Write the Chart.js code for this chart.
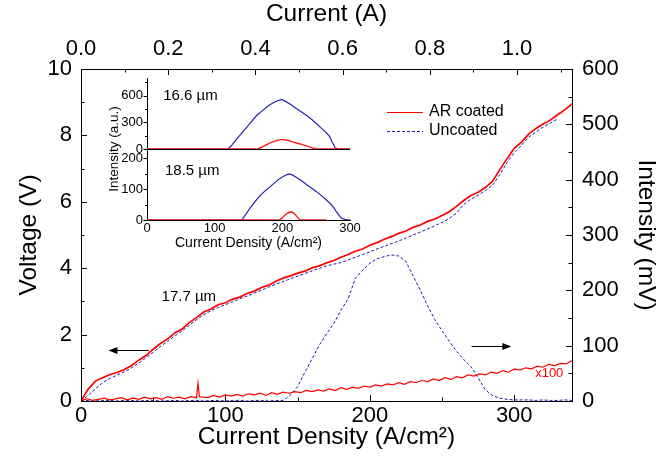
<!DOCTYPE html>
<html>
<head>
<meta charset="utf-8">
<script src="https://cdn.jsdelivr.net/npm/chart.js@4.4.1/dist/chart.umd.min.js"></script>
<style>
  html, body { margin: 0; padding: 0; background: #fff; }
  #wrap { position: relative; width: 665px; height: 470px; }
  #wrap canvas { position: absolute; }
  #main { left: 0; top: 0; }
  #insetTop, #insetBot, #insetAxis { left: 95px; top: 70px; }
</style>
</head>
<body>
<div id="wrap">
  <canvas id="main" width="665" height="470"></canvas>
  <canvas id="insetAxis" width="270" height="190"></canvas>
  <canvas id="insetTop" width="270" height="190"></canvas>
  <canvas id="insetBot" width="270" height="190"></canvas>
</div>
<script>
// ---- tick values
const cdTicks = [0, 100, 200, 300];
const currentTicks = [0, 0.2, 0.4, 0.6, 0.8, 1.0];
const voltTicks = [0, 2, 4, 6, 8, 10];
const mVTicks = [0, 100, 200, 300, 400, 500, 600];
const insetCdTicks = [0, 100, 200, 300];
const insetTopTicks = [0, 300, 600];
const insetBotTicks = [0, 100, 200];

// ---- main plot: current density grid (A/cm2) for voltage + uncoated intensity
const cdGrid = [0,5,10,15,20,25,30,35,40,45,50,55,60,65,70,75,80,85,90,95,
  100,105,110,115,120,125,130,135,140,145,150,155,160,165,170,175,180,185,190,195,
  200,205,210,215,220,225,230,235,240,245,250,255,260,265,270,275,280,285,290,295,
  300,305,310,315,320,325,330,335,340];

// voltage (V), AR coated
const voltAR = [0,0.36,0.60,0.70,0.80,0.86,0.95,1.07,1.23,1.37,1.56,1.73,1.87,2.05,2.17,2.36,2.51,2.68,2.77,2.90,
  2.96,3.07,3.13,3.24,3.31,3.42,3.49,3.61,3.70,3.77,3.85,3.91,4.01,4.07,4.16,4.23,4.33,4.41,4.51,4.58,
  4.69,4.77,4.87,4.95,5.05,5.12,5.23,5.30,5.41,5.48,5.59,5.70,5.86,6.04,6.19,6.29,6.43,6.62,6.97,7.30,
  7.61,7.80,8.04,8.21,8.34,8.46,8.62,8.77,8.95];

// voltage (V), uncoated
const voltUn = [0,0.17,0.37,0.55,0.68,0.78,0.88,1.00,1.14,1.30,1.47,1.64,1.80,1.96,2.11,2.28,2.45,2.60,2.72,2.82,
  2.90,2.99,3.08,3.16,3.25,3.34,3.43,3.52,3.60,3.68,3.76,3.84,3.92,3.99,4.07,4.12,4.17,4.25,4.33,4.41,
  4.49,4.58,4.66,4.74,4.82,4.91,5.00,5.09,5.18,5.28,5.38,5.50,5.66,5.92,6.08,6.20,6.34,6.50,6.82,7.18,
  7.48,7.70,7.95,8.10,8.25,8.37,8.50,null,null];

// intensity (mV), uncoated
const intUn = [1,1,0,1,1,0,1,1,0,1,1,0,1,1,0,1,1,0,1,1,
  0,1,1,0,1,1,0,1,1,11,26,52,76,101,121,140,164,185,222,236,
  249,257,261,264,262,252,226,200,172,147,127,108,90,75,62,42,20,10,5,3,
  2,2,2,1,2,1,1,2,1];

// intensity (mV), AR coated, shown x100
const cdIntAR = [0,4,8,12,16,20,24,28,32,36,
  40,44,48,52,56,60,64,68,72,76,
  80,81,82,84,88,92,96,100,104,108,
  112,116,120,124,128,132,136,140,144,148,
  152,156,160,164,168,172,176,180,184,188,
  192,196,200,204,208,212,216,220,224,228,
  232,236,240,244,248,252,256,260,264,268,
  272,276,280,284,288,292,296,300,304,308,
  312,316,320,324,328,332,336,340];
const intAR = [0,4,1,3,5,2,4,6,2,5,
  3,7,4,6,3,8,5,7,4,8,
  6,32,8,7,6,10,7,11,9,12,
  9,13,11,14,10,15,12,16,14,17,
  15,19,17,20,18,22,19,24,21,25,
  23,27,25,29,27,31,29,33,30,35,
  33,37,35,40,37,42,39,44,42,47,
  45,49,47,52,50,55,52,58,56,60,
  58,63,61,66,64,68,67,73];

// ---- inset: intensity (a.u.) vs current density
const cdTopBlue = [0,120,126,132,140,147,155,162,170,177,184,191,199,206,214,221,229,236,244,251,258,265,270,273,276,278,282,290,300];
const blue166 = [0,0,50,108,180,242,315,377,430,473,510,538,558,531,494,454,415,377,330,281,232,185,140,88,45,12,2,0,0];
const cdTopRed = [0,164,172,182,190,199,208,216,224,231,239,246,251,300];
const red166 = [0,0,30,69,92,108,98,77,62,46,27,8,0,0];
const cdBotBlue = [0,140,146,152,160,167,175,182,189,196,202,209,215,221,229,236,244,251,260,270,276,280,285,288,294,300];
const blue185 = [0,0,18,38,60,79,95,108,121,134,142,149,146,138,126,114,102,91,75,55,40,26,12,5,1,0];
const cdBotRed = [0,196,201,206,210,214,218,222,226,265];
const red185 = [0,0,10,20,25,26,20,10,0,0];

const RED = '#ff0000';
const BLUE = '#1c1caa';
const INRED = '#ff1a1a';
const INBLUE = '#2424b0';
const FONT = "'Liberation Sans', Arial, sans-serif";
Chart.defaults.font.family = FONT;
Chart.defaults.color = '#000';

const pairs = (xs, ys) => xs.map((x, i) => ({ x: x, y: ys[i] }));
const useTicks = values => s => { s.ticks = values.map(v => ({ value: v })); };

// tick marks (major + minor) drawn on the axis lines
const tickMarks = {
  id: 'tickMarks',
  afterDatasetsDraw(chart, args, o) {
    const ctx = chart.ctx;
    ctx.save();
    ctx.strokeStyle = '#000';
    ctx.lineWidth = 1;
    ctx.beginPath();
    for (const ax of o.axes) {
      const s = chart.scales[ax.id];
      const per = Math.round(ax.major / ax.minor);
      const last = Math.floor(s.max / ax.minor + 1e-6);
      for (let i = 0; i <= last; i++) {
        let len = i % per === 0 ? o.major : o.minor;
        if (ax.out) len = -len;
        const p = Math.round(s.getPixelForValue(i * ax.minor)) + 0.5;
        if (s.position === 'bottom') { ctx.moveTo(p, s.top); ctx.lineTo(p, s.top - len); }
        else if (s.position === 'top') { ctx.moveTo(p, s.bottom); ctx.lineTo(p, s.bottom + len); }
        else if (s.position === 'left') { ctx.moveTo(s.right, p); ctx.lineTo(s.right + len, p); }
        else { ctx.moveTo(s.left, p); ctx.lineTo(s.left - len, p); }
      }
    }
    ctx.stroke();
    ctx.restore();
  }
};

// value labels beside an inset y axis, placed through that scale
const sideLabels = {
  id: 'sideLabels',
  afterDraw(chart, args, o) {
    if (!o.values) return;
    const s = chart.scales.y;
    const ctx = chart.ctx;
    ctx.save();
    ctx.font = o.size + 'px ' + FONT;
    ctx.fillStyle = '#000';
    ctx.textAlign = 'right';
    ctx.textBaseline = 'middle';
    o.values.forEach(v => ctx.fillText(String(v), s.right - o.pad, s.getPixelForValue(v)));
    ctx.restore();
  }
};

// legend in the upper right of the plot
const legendBox = {
  id: 'legendBox',
  afterDraw(chart, args, o) {
    const ctx = chart.ctx;
    ctx.save();
    ctx.font = o.size + 'px ' + FONT;
    ctx.textBaseline = 'middle';
    o.show.forEach((k, n) => {
      const ds = chart.data.datasets[k];
      const y = o.y + n * o.gap;
      ctx.strokeStyle = ds.borderColor;
      ctx.lineWidth = 1;
      ctx.setLineDash(ds.borderDash || []);
      ctx.beginPath();
      ctx.moveTo(o.x, y + 0.5);
      ctx.lineTo(o.x + o.len, y + 0.5);
      ctx.stroke();
      ctx.setLineDash([]);
      ctx.fillStyle = '#000';
      ctx.fillText(ds.label, o.x + o.len + 6, y);
    });
    ctx.restore();
  }
};

// arrows and text notes placed in data coordinates
const notes = {
  id: 'notes',
  afterDraw(chart, args, o) {
    const ctx = chart.ctx;
    ctx.save();
    (o.arrows || []).forEach(a => {
      const sx = chart.scales[a.x], sy = chart.scales[a.y];
      const x1 = sx.getPixelForValue(a.from[0]), y1 = Math.round(sy.getPixelForValue(a.from[1])) + 0.5;
      const x2 = sx.getPixelForValue(a.to[0]);
      const d = x2 > x1 ? 1 : -1;
      ctx.strokeStyle = '#000';
      ctx.fillStyle = '#000';
      ctx.lineWidth = 1;
      ctx.beginPath();
      ctx.moveTo(x1, y1);
      ctx.lineTo(x2 - d * 6, y1);
      ctx.stroke();
      ctx.beginPath();
      ctx.moveTo(x2, y1);
      ctx.lineTo(x2 - d * 9, y1 - 3.5);
      ctx.lineTo(x2 - d * 9, y1 + 3.5);
      ctx.closePath();
      ctx.fill();
    });
    (o.texts || []).forEach(t => {
      const sx = chart.scales[t.x], sy = chart.scales[t.y];
      ctx.font = t.size + 'px ' + FONT;
      ctx.fillStyle = t.color || '#000';
      ctx.textAlign = t.align || 'left';
      ctx.textBaseline = 'middle';
      ctx.fillText(t.text, sx.getPixelForValue(t.at[0]), sy.getPixelForValue(t.at[1]));
    });
    if (o.sideTitle) {
      ctx.font = o.sideTitle.size + 'px ' + FONT;
      ctx.fillStyle = '#000';
      ctx.textAlign = 'center';
      ctx.textBaseline = 'middle';
      ctx.translate(o.sideTitle.x, o.sideTitle.y);
      ctx.rotate(-Math.PI / 2);
      ctx.fillText(o.sideTitle.text, 0, 0);
    }
    ctx.restore();
  }
};

// zero line of the upper inset panel (its x axis is hidden)
const panelLine = {
  id: 'panelLine',
  beforeDatasetsDraw(chart, args, o) {
    if (!o.on) return;
    const a = chart.chartArea;
    const ctx = chart.ctx;
    ctx.save();
    ctx.strokeStyle = '#000';
    ctx.lineWidth = 1;
    ctx.beginPath();
    ctx.moveTo(a.left, Math.round(a.bottom) + 0.5);
    ctx.lineTo(a.right, Math.round(a.bottom) + 0.5);
    ctx.stroke();
    ctx.restore();
  }
};

const noGrid = () => ({ display: false, drawTicks: false });
const border = () => ({ display: true, color: '#000', width: 1 });
const common = {
  responsive: false,
  animation: false,
  devicePixelRatio: 1,
  elements: { point: { radius: 0 }, line: { tension: 0, fill: false } }
};

new Chart(document.getElementById('main'), {
  type: 'line',
  data: {
    datasets: [
      { label: 'AR coated', data: pairs(cdGrid, voltAR), yAxisID: 'y', borderColor: RED, borderWidth: 1.7 },
      { label: 'AR coated x100', data: pairs(cdIntAR, intAR), yAxisID: 'y2', borderColor: RED, borderWidth: 1.2 },
      { label: 'Uncoated', data: pairs(cdGrid, voltUn), yAxisID: 'y', borderColor: BLUE, borderWidth: 1, borderDash: [3, 2] },
      { label: 'Uncoated', data: pairs(cdGrid, intUn), yAxisID: 'y2', borderColor: BLUE, borderWidth: 1, borderDash: [3, 2] }
    ]
  },
  options: Object.assign({}, common, {
    layout: { padding: 0 },
    plugins: {
      legend: { display: false },
      tooltip: { enabled: false },
      tickMarks: {
        major: 6, minor: 3.5,
        axes: [
          { id: 'x', major: 100, minor: 50 },
          { id: 'x2', major: 0.2, minor: 0.1 },
          { id: 'y', major: 2, minor: 1 },
          { id: 'y2', major: 100, minor: 50 }
        ]
      },
      legendBox: { x: 387, y: 112, gap: 19, len: 36, size: 16, show: [0, 2] },
      notes: {
        arrows: [
          { x: 'x', y: 'y', from: [47, 1.54], to: [19, 1.54] },
          { x: 'x', y: 'y2', from: [270.5, 100], to: [298, 100] }
        ],
        texts: [
          { text: '17.7 µm', x: 'x', y: 'y', at: [55.8, 3.14], size: 15 },
          { text: 'x100', x: 'x', y: 'y2', at: [334, 50], size: 13, color: RED, align: 'right' }
        ]
      }
    },
    scales: {
      x: {
        type: 'linear', position: 'bottom', min: 0, max: 340,
        grid: noGrid(), border: border(),
        ticks: { padding: 2, font: { size: 22 }, maxRotation: 0, autoSkip: false },
        afterBuildTicks: useTicks(cdTicks),
        title: { display: true, text: 'Current Density (A/cm²)', font: { size: 24.5 }, padding: { top: 0, bottom: 18 } },
        afterFit: s => { s.height = 69; }
      },
      x2: {
        type: 'linear', position: 'top', min: 0, max: 1.126,
        grid: noGrid(), border: border(),
        ticks: { padding: 7, font: { size: 22 }, maxRotation: 0, autoSkip: false, callback: v => v.toFixed(1) },
        afterBuildTicks: useTicks(currentTicks),
        title: { display: true, text: 'Current (A)', font: { size: 24.5 }, padding: { top: 0, bottom: 0 } },
        afterFit: s => { s.height = 69; }
      },
      y: {
        type: 'linear', position: 'left', min: 0, max: 10,
        grid: noGrid(), border: border(),
        ticks: { padding: 9, font: { size: 22 }, autoSkip: false },
        afterBuildTicks: useTicks(voltTicks),
        title: { display: true, text: 'Voltage (V)', font: { size: 24.5 }, padding: { top: 15, bottom: 0 } },
        afterFit: s => { s.width = 81; }
      },
      y2: {
        type: 'linear', position: 'right', min: 0, max: 600,
        grid: noGrid(), border: border(),
        ticks: { padding: 10, font: { size: 22 }, autoSkip: false },
        afterBuildTicks: useTicks(mVTicks),
        title: { display: true, text: 'Intensity (mV)', font: { size: 24.5 }, padding: { top: 5, bottom: 0 } },
        afterFit: s => { s.width = 93; }
      }
    }
  }),
  plugins: [tickMarks, legendBox, notes]
});

// inset panels share one geometry; each panel gets its own chart
const insetPanel = (id, sets, pad, yMax, yTicks, tickSteps, extraPlugins) => new Chart(document.getElementById(id), {
  type: 'line',
  data: { datasets: sets },
  options: Object.assign({}, common, {
    layout: { padding: pad },
    plugins: Object.assign({
      legend: { display: false },
      tooltip: { enabled: false },
      tickMarks: { major: 3.5, minor: 2, axes: [{ id: 'y', major: tickSteps[0], minor: tickSteps[1], out: true }] },
      sideLabels: { values: yTicks, size: 13, pad: 4 }
    }, extraPlugins),
    scales: {
      x: { type: 'linear', min: 0, max: 300, display: false },
      y: {
        type: 'linear', position: 'left', min: 0, max: yMax,
        grid: noGrid(), border: border(),
        ticks: { display: false },
        afterBuildTicks: useTicks(yTicks),
        afterFit: s => { s.width = 52; }
      }
    }
  }),
  plugins: [tickMarks, panelLine, sideLabels, notes]
});

// upper inset panel: 16.6 um
insetPanel('insetTop', [
  { label: '16.6 µm AR coated', data: pairs(cdTopRed, red166), borderColor: INRED, borderWidth: 1.4 },
  { label: '16.6 µm uncoated', data: pairs(cdTopBlue, blue166), borderColor: INBLUE, borderWidth: 1.2 }
], { top: 8, right: 15, left: 0, bottom: 111 }, 800, insetTopTicks, [300, 150], {
  panelLine: { on: true },
  notes: { texts: [{ text: '16.6 µm', x: 'x', y: 'y', at: [24, 600], size: 15 }] }
});

// lower inset panel: 18.5 um
insetPanel('insetBot', [
  { label: '18.5 µm AR coated', data: pairs(cdBotRed, red185), borderColor: INRED, borderWidth: 1.4 },
  { label: '18.5 µm uncoated', data: pairs(cdBotBlue, blue185), borderColor: INBLUE, borderWidth: 1.2 }
], { top: 79, right: 15, left: 0, bottom: 40 }, 230, insetBotTicks, [100, 50], {
  panelLine: { on: false },
  notes: {
    texts: [{ text: '18.5 µm', x: 'x', y: 'y', at: [26.6, 159], size: 15 }],
    sideTitle: { text: 'Intensity (a.u.)', x: 19, y: 79, size: 13.5 }
  }
});

// shared current-density axis of the inset
new Chart(document.getElementById('insetAxis'), {
  type: 'line',
  data: { datasets: [] },
  options: Object.assign({}, common, {
    layout: { padding: { top: 79, right: 15, left: 52, bottom: 0 } },
    plugins: { legend: { display: false }, tooltip: { enabled: false } },
    scales: {
      x: {
        type: 'linear', position: 'bottom', min: 0, max: 300,
        grid: noGrid(), border: border(),
        ticks: { padding: 1, font: { size: 13 }, maxRotation: 0, autoSkip: false },
        afterBuildTicks: useTicks(insetCdTicks),
        title: { display: true, text: 'Current Density (A/cm²)', font: { size: 14 }, padding: { top: 0, bottom: 8 } },
        afterFit: s => { s.height = 40; }
      },
      y: { type: 'linear', min: 0, max: 1, display: false }
    }
  })
});
</script>
</body>
</html>
